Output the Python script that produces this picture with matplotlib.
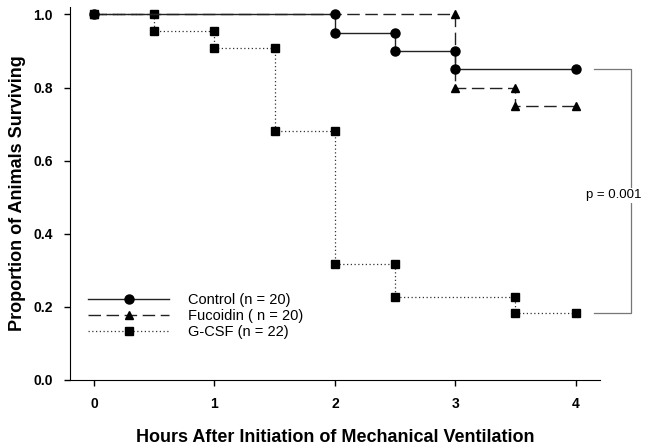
import matplotlib
matplotlib.use("Agg")
import matplotlib.pyplot as plt

plt.rcParams["font.family"] = ["Liberation Sans", "DejaVu Sans"]

# Kaplan-Meier step points (hours, proportion surviving)
control_t = [0, 2, 2, 2.5, 2.5, 3, 3, 4]
control_s = [1.0, 1.0, 0.95, 0.95, 0.90, 0.90, 0.85, 0.85]

fucoidin_t = [0, 3, 3, 3.5, 3.5, 4]
fucoidin_s = [1.0, 1.0, 0.80, 0.80, 0.75, 0.75]

gcsf_t = [0, 0.5, 0.5, 1, 1, 1.5, 1.5, 2, 2, 2.5, 2.5, 3.5, 3.5, 4]
gcsf_s = [1.0, 1.0, 0.955, 0.955, 0.909, 0.909, 0.682, 0.682,
          0.318, 0.318, 0.227, 0.227, 0.182, 0.182]

labels = ["Control (n = 20)", "Fucoidin ( n = 20)", "G-CSF (n = 22)"]
p_text = "p = 0.001"

fig = plt.figure(figsize=(6.5, 4.46), dpi=100)
ax = fig.add_axes([0.1077, 0.148, 0.815, 0.836])

ax.plot(gcsf_t, gcsf_s, color="#333333", linestyle=(0, (1, 2)), linewidth=0.9,
        marker="s", markersize=5.5, markerfacecolor="black",
        markeredgecolor="black", label=labels[2], zorder=2)
ax.plot(fucoidin_t, fucoidin_s, color="#222222", linestyle=(0, (9, 4)),
        linewidth=1.0, marker="^", markersize=6, markerfacecolor="black",
        markeredgecolor="black", label=labels[1], zorder=3)
ax.plot(control_t, control_s, color="#222222", linestyle="-", linewidth=1.0,
        marker="o", markersize=6.5, markerfacecolor="black",
        markeredgecolor="black", label=labels[0], zorder=4)

# significance bracket
bx0, bx1 = 4.15, 4.46
ax.plot([bx0, bx1, bx1, bx0],
        [control_s[-1], control_s[-1], gcsf_s[-1], gcsf_s[-1]],
        color="#777777", linewidth=0.9, clip_on=False)
ax.text(bx1 - 0.14, 0.505, p_text, ha="center", va="center", fontsize=9.5,
        bbox=dict(facecolor="white", edgecolor="none", pad=1),
        clip_on=False, zorder=5)

ax.set_xlim(-0.2, 4.2)
ax.set_ylim(0, 1.02)
ax.set_xticks([0, 1, 2, 3, 4])
ax.set_yticks([0.0, 0.2, 0.4, 0.6, 0.8, 1.0])
ax.set_yticklabels(["0.0", "0.2", "0.4", "0.6", "0.8", "1.0"])
for lab in ax.get_xticklabels() + ax.get_yticklabels():
    lab.set_fontweight("bold")
ax.tick_params(labelsize=10, length=4.5, width=1, direction="out", pad=8)
ax.spines["top"].set_visible(False)
ax.spines["right"].set_visible(False)

ax.set_xlabel("Hours After Initiation of Mechanical Ventilation",
              fontsize=13, fontweight="bold", labelpad=13)
ax.set_ylabel("Proportion of Animals Surviving",
              fontsize=13, fontweight="bold", labelpad=5)

handles, labs = ax.get_legend_handles_labels()
order = [2, 1, 0]
ax.legend([handles[i] for i in order], [labs[i] for i in order],
          loc="lower left", bbox_to_anchor=(0.01, 0.075), frameon=False,
          fontsize=10.5, handlelength=5.5, labelspacing=0.12,
          handletextpad=1.35)

fig.savefig("out.png", dpi=100)
